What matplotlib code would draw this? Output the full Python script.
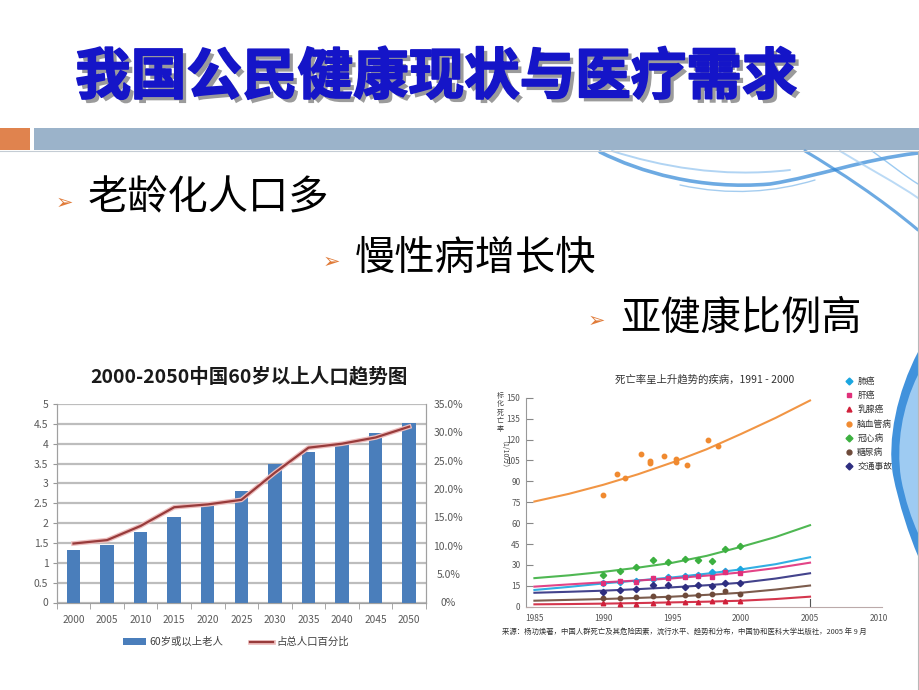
import matplotlib
matplotlib.use('Agg')
import matplotlib.pyplot as plt
import numpy as np
from matplotlib.patches import Rectangle, PathPatch
from matplotlib.path import Path
from matplotlib.lines import Line2D
import matplotlib.patheffects as pe

plt.rcParams['font.family'] = ['Noto Sans CJK SC', 'DejaVu Sans']

# ---------------- data ----------------
slide_title = '我国公民健康现状与医疗需求'
bullets = ['老龄化人口多', '慢性病增长快', '亚健康比例高']

pop_title = '2000-2050中国60岁以上人口趋势图'
pop_years = ['2000', '2005', '2010', '2015', '2020', '2025', '2030', '2035', '2040', '2045', '2050']
elderly_100m = [1.32, 1.45, 1.78, 2.15, 2.42, 2.80, 3.50, 3.80, 4.00, 4.28, 4.52]
elderly_pct = [10.4, 11.0, 13.5, 16.8, 17.3, 18.1, 22.9, 27.3, 28.0, 29.1, 31.0]
pop_left_ticks = [0, 0.5, 1, 1.5, 2, 2.5, 3, 3.5, 4, 4.5, 5]
pop_left_labels = ['0', '0.5', '1', '1.5', '2', '2.5', '3', '3.5', '4', '4.5', '5']
pop_right_ticks = [0, 5, 10, 15, 20, 25, 30, 35]
pop_right_labels = ['0%', '5.0%', '10.0%', '15.0%', '20.0%', '25.0%', '30.0%', '35.0%']
bar_label = '60岁或以上老人'
line_label = '占总人口百分比'

mort_title = '死亡率呈上升趋势的疾病，1991 - 2000'
mort_source = '来源：杨功焕著，中国人群死亡及其危险因素，流行水平、趋势和分布，中国协和医科大学出版社，2005 年 9 月'
mort_ylabel_a = '标化死亡率'
mort_ylabel_b = '（1/10万）'
mort_yticks = [0, 15, 30, 45, 60, 75, 90, 105, 120, 135, 150]
mort_xticks = [1985, 1990, 1995, 2000, 2005, 2010]
diseases = ['肺癌', '肝癌', '乳腺癌', '脑血管病', '冠心病', '糖尿病', '交通事故']

trend_years = [1985, 1987.5, 1990, 1992.5, 1995, 1997.5, 2000, 2002.5, 2005]
trend_lung = [12.0, 14.2, 16.7, 18.8, 21.0, 23.7, 26.8, 30.5, 35.5]
trend_liver = [14.4, 16.0, 17.5, 18.8, 20.3, 22.3, 24.6, 27.7, 31.6]
trend_breast = [1.7, 1.9, 2.2, 2.6, 3.1, 3.6, 4.3, 5.5, 7.2]
trend_stroke = [75.5, 81.0, 87.5, 95.0, 103.5, 113.0, 124.0, 135.5, 148.0]
trend_chd = [20.5, 22.5, 25.0, 28.0, 31.5, 36.5, 43.0, 50.0, 58.5]
trend_diabetes = [4.3, 4.9, 5.5, 6.3, 7.2, 8.5, 10.0, 12.3, 15.2]
trend_traffic = [10.0, 10.7, 11.5, 12.6, 13.9, 15.4, 17.2, 20.2, 24.0]

obs_years = [1990.0, 1991.2, 1992.4, 1993.6, 1994.7, 1995.9, 1996.9, 1997.9, 1998.8, 1999.9]
obs_lung = [17.0, 18.0, 18.5, 20.0, 21.0, 22.0, 23.0, 24.8, 25.5, 27.0]
obs_liver = [17.2, 18.2, 17.7, 20.6, 20.6, 21.5, 22.0, 21.0, 24.6, 24.4]
obs_breast = [2.4, 2.2, 1.9, 2.9, 3.1, 3.3, 3.6, 4.1, 4.3, 4.3]
obs_chd = [22.7, 25.8, 28.7, 33.3, 32.3, 34.0, 33.5, 32.5, 41.1, 43.5]
obs_diabetes = [6.0, 6.2, 6.7, 7.7, 7.2, 8.1, 8.1, 8.9, 11.0, 8.9]
obs_traffic = [10.8, 12.0, 12.4, 15.6, 15.3, 14.4, 15.3, 14.8, 17.2, 17.2]
stroke_years = [1990.0, 1991.0, 1991.6, 1992.7, 1993.4, 1993.4, 1994.4, 1995.3, 1995.3, 1996.1, 1997.6, 1998.3]
stroke_obs = [80.0, 95.0, 92.5, 109.5, 104.5, 103.0, 108.0, 106.0, 104.0, 101.5, 120.0, 115.0]

# ---------------- figure ----------------
W, H = 920, 690
def fx(x):
    return x / W
def fy(y):
    return 1 - y / H

fig = plt.figure(figsize=(9.2, 6.9), dpi=100)
fig.patch.set_facecolor('white')

# banner
fig.patches.append(Rectangle((fx(0), fy(150)), fx(30), 22 / H, transform=fig.transFigure,
                             facecolor='#E0834E', edgecolor='none'))
fig.patches.append(Rectangle((fx(34), fy(150)), fx(W - 34), 22 / H, transform=fig.transFigure,
                             facecolor='#9BB3CA', edgecolor='none'))
fig.lines.append(Line2D([0, 1], [fy(151), fy(151)], transform=fig.transFigure, color='#C4CCD4', lw=0.8))
fig.lines.append(Line2D([fx(918.5), fx(918.5)], [fy(151), 0], transform=fig.transFigure, color='#B8B8B8', lw=0.8))

# smoke decoration
def add_curve(pts, color, lw, alpha):
    verts = [(fx(x), fy(y)) for x, y in pts]
    codes = [Path.MOVETO] + [Path.CURVE4] * (len(verts) - 1)
    fig.patches.append(PathPatch(Path(verts, codes), transform=fig.transFigure, facecolor='none',
                                 edgecolor=color, lw=lw, alpha=alpha, capstyle='round'))

def add_fill(pts, color, alpha):
    verts = [(fx(x), fy(y)) for x, y in pts] + [(fx(pts[0][0]), fy(pts[0][1]))]
    codes = [Path.MOVETO] + [Path.CURVE4] * (len(pts) - 1) + [Path.CLOSEPOLY]
    fig.patches.append(PathPatch(Path(verts, codes), transform=fig.transFigure, facecolor=color,
                                 edgecolor='none', alpha=alpha))

add_curve([(600, 152), (640, 172), (700, 190), (770, 184), (820, 176), (860, 160), (918, 153)], '#2F86D6', 2.6, 0.7)
add_curve([(612, 151), (660, 166), (720, 178), (790, 170)], '#7DB8EC', 1.4, 0.6)
add_curve([(680, 185), (730, 196), (775, 192), (815, 180)], '#4B9BE0', 1.0, 0.5)
add_curve([(805, 151), (840, 172), (880, 198), (918, 230)], '#2F86D6', 2.2, 0.7)
add_curve([(840, 151), (868, 168), (898, 184), (918, 198)], '#9FCBF2', 1.4, 0.7)
add_curve([(872, 151), (890, 164), (905, 176), (918, 184)], '#5AA7E8', 1.0, 0.6)
add_fill([(918, 352), (897, 392), (887, 440), (893, 475), (899, 505), (909, 535), (918, 556)], '#1F7FD6', 0.85)
add_fill([(918, 375), (902, 407), (896, 445), (901, 478), (905, 500), (912, 520), (918, 533)], '#A9D2F5', 0.9)

# slide title
fig.text(fx(436), fy(78), slide_title, fontsize=40, fontweight='heavy', color='#1515C8',
         ha='center', va='center',
         path_effects=[pe.SimplePatchShadow(offset=(3, -3), shadow_rgbFace='#7a7a7a', alpha=0.75),
                       pe.Stroke(linewidth=1.3, foreground='#1515C8'), pe.Normal()])

# bullets
bullet_pos = [(88, 198, 56, 203), (355, 258, 323, 262), (620, 318, 588, 321)]
for txt, (tx, ty, ax_, ay) in zip(bullets, bullet_pos):
    fig.text(fx(tx), fy(ty), txt, fontsize=29, ha='left', va='center', color='black')
    fig.text(fx(ax_), fy(ay), '➢', fontsize=15, ha='left', va='center', color='#E07B39',
             family=['DejaVu Sans'])

# ---------------- left chart ----------------
ax = fig.add_axes([fx(56.7), fy(602.5), fx(426) - fx(56.7), fy(404) - fy(602.5)])
xpos = np.arange(len(pop_years))
bars = ax.bar(xpos, elderly_100m, width=0.4, color='#4A7EBB', zorder=3, label=bar_label)
ax.set_xlim(-0.5, len(pop_years) - 0.5)
ax.set_ylim(0, 5)
ax.set_yticks(pop_left_ticks)
ax.set_yticklabels(pop_left_labels)
ax.grid(axis='y', color='#BDBDBD', linewidth=1.6, zorder=0)
ax.set_axisbelow(True)
ax.set_xticks(xpos)
ax.set_xticklabels(pop_years)
ax.tick_params(axis='x', length=0, labelsize=7.3, labelcolor='#595959', pad=9)
ax.set_xticks(np.arange(-0.5, len(pop_years), 1), minor=True)
ax.tick_params(axis='x', which='minor', length=4, color='#999999')
ax.tick_params(axis='y', length=3, color='#999999', labelsize=7.5, labelcolor='#595959', pad=3)
for s in ['left', 'right', 'bottom']:
    ax.spines[s].set_color('#A0A0A0')
ax.spines['top'].set_visible(False)

ax2 = ax.twinx()
ax2.set_ylim(0, 35)
line, = ax2.plot(xpos, elderly_pct, color='#983B3B', lw=1.6, zorder=4, label=line_label,
                 path_effects=[pe.Stroke(linewidth=3.4, foreground='#EDBDBD'), pe.Normal()])
ax2.set_yticks(pop_right_ticks)
ax2.set_yticklabels(pop_right_labels)
ax2.tick_params(axis='y', length=0, labelsize=7.5, labelcolor='#595959', pad=16)
for lab in ax2.get_yticklabels():
    lab.set_ha('center')
for s in ['left', 'right', 'bottom']:
    ax2.spines[s].set_color('#A0A0A0')
ax2.spines['top'].set_visible(False)

fig.text(fx(249), fy(377), pop_title, ha='center', va='center', fontsize=14, fontweight='bold',
         color='#1a1a1a')
fig.legend([bars, line], [bar_label, line_label], loc='center', bbox_to_anchor=(fx(236), fy(642)),
           ncol=2, frameon=False, fontsize=7.5, handlelength=2.2, handleheight=0.6,
           columnspacing=2.5, handletextpad=0.4, labelcolor='#404040')

# ---------------- right chart ----------------
axr = fig.add_axes([fx(526), fy(606.7), fx(881.7) - fx(526), fy(397.7) - fy(606.7)])
axr.set_xlim(1984.39, 2010.2)
axr.set_ylim(0, 150)
axr.set_yticks(mort_yticks)
axr.set_xticks(mort_xticks)
axr.tick_params(axis='y', direction='in', length=5, color='#888888', labelsize=6,
                labelcolor='#555555', pad=4)
axr.tick_params(axis='x', length=0, labelsize=6, labelcolor='#555555', pad=5)
axr.spines['left'].set_color('#999999')
axr.spines['bottom'].set_color('#BBAAAA')
axr.spines['top'].set_visible(False)
axr.spines['right'].set_visible(False)
axr.axvline(2005, ymin=0, ymax=0.035, color='#555555', lw=0.8)

series = [
    (trend_lung, obs_years, obs_lung, '#1BA6E0', 'D'),
    (trend_liver, obs_years, obs_liver, '#E0307A', 's'),
    (trend_breast, obs_years, obs_breast, '#D0203A', '^'),
    (trend_stroke, stroke_years, stroke_obs, '#F08A30', 'o'),
    (trend_chd, obs_years, obs_chd, '#3CB040', 'D'),
    (trend_diabetes, obs_years, obs_diabetes, '#6E4A3A', 'o'),
    (trend_traffic, obs_years, obs_traffic, '#2E2E80', 'D'),
]
handles = []
for trend, oy, ov, col, mk in series:
    axr.plot(trend_years, trend, color=col, lw=1.5, alpha=0.9, zorder=2)
    axr.plot(oy, ov, ls='none', marker=mk, color=col, markersize=3.2, zorder=3)
    handles.append(Line2D([], [], ls='none', marker=mk, color=col, markersize=3.5))

fig.legend(handles, diseases, loc='upper left', bbox_to_anchor=(fx(838), fy(369)), frameon=False,
           fontsize=6.3, labelspacing=0.6, handlelength=0.8, handletextpad=0.5, labelcolor='#333333')

fig.text(fx(705), fy(380), mort_title, fontsize=7.5, color='#333333', ha='center', va='center')
fig.text(fx(500), fy(392), '\n'.join(mort_ylabel_a), fontsize=5, color='#444444', ha='center', va='top',
         linespacing=1.05)
fig.text(fx(500), fy(458), mort_ylabel_b, fontsize=5, color='#444444', ha='center', va='center',
         rotation=270)
fig.text(fx(502), fy(632), mort_source, fontsize=5.3, color='#333333', ha='left', va='center')

fig.savefig('out.png', dpi=100, facecolor='white')
